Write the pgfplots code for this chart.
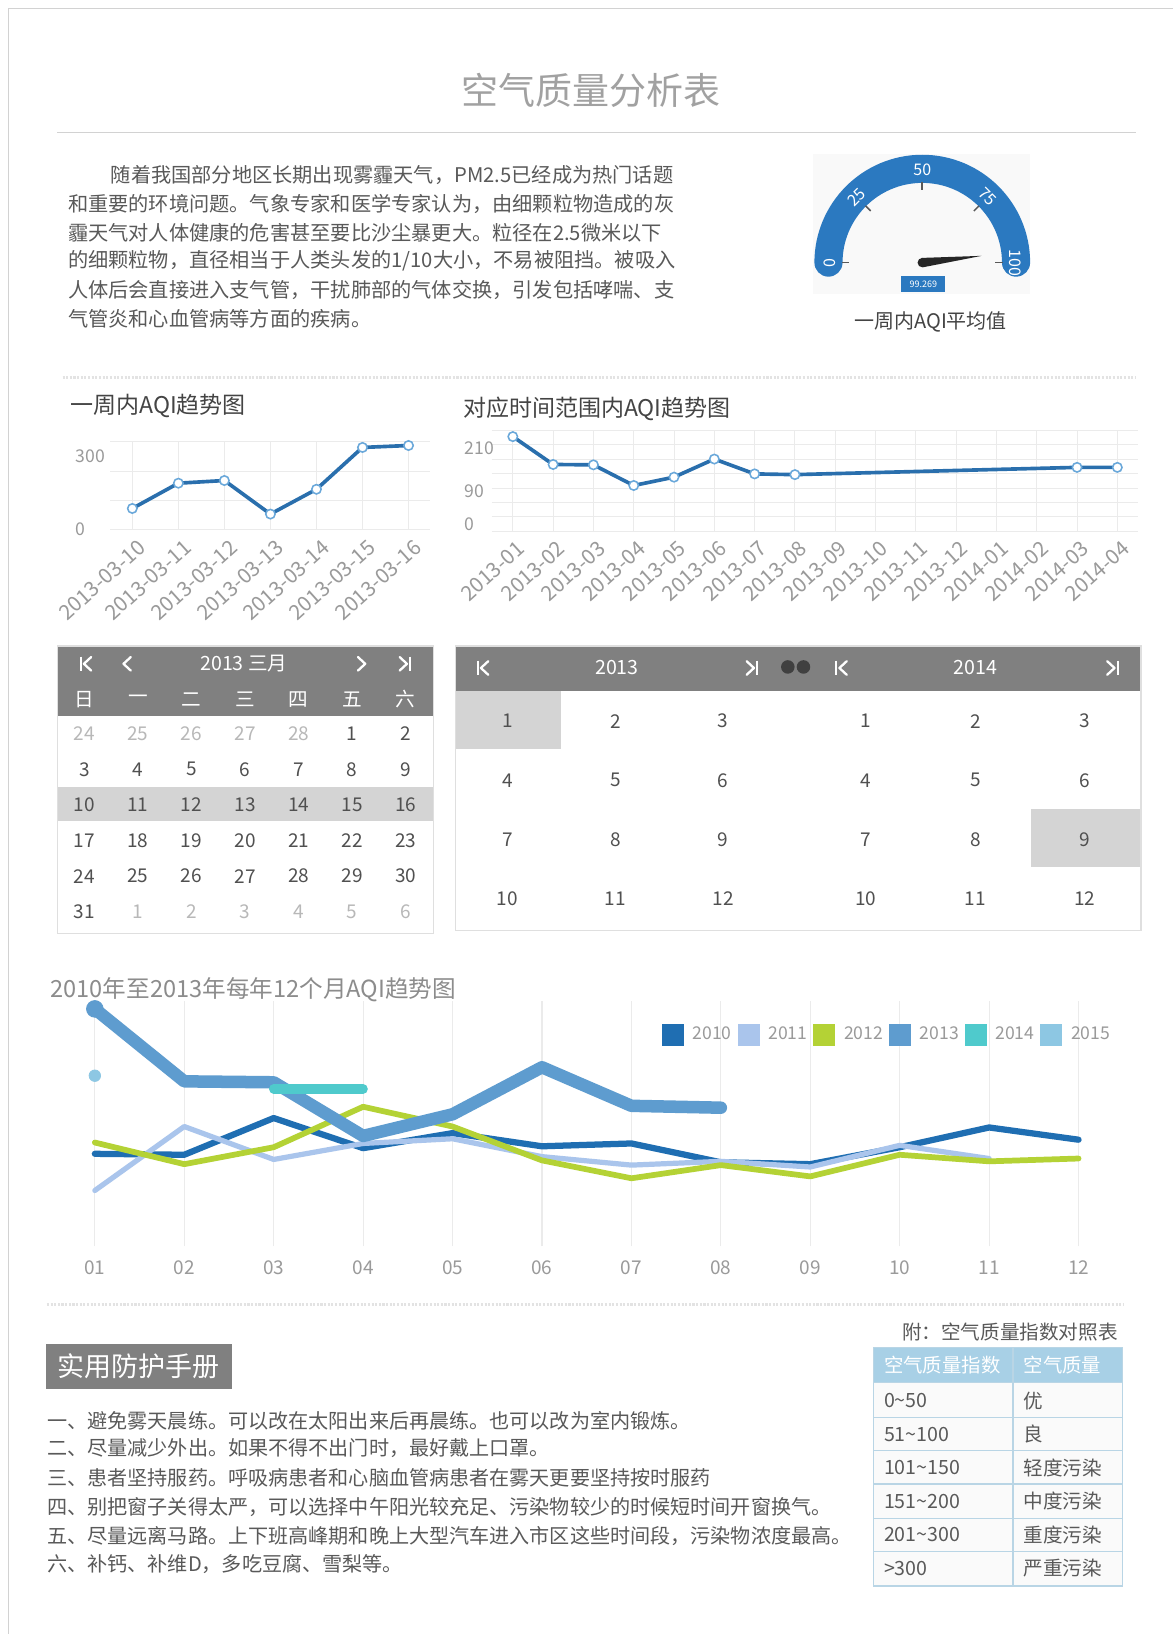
\documentclass[border=0pt]{standalone}
\usepackage{fontspec}
\setmainfont{Noto Sans CJK SC}
\usepackage{pgfplots}
\pgfplotsset{compat=1.18}
\pgfplotsset{/pgf/number format/assume math mode=true}
\newlength\U
\setlength\U{0.52087pt}
\newcommand\fs[1]{\fontsize{#1}{#1}\selectfont}
\definecolor{txt}{HTML}{595959}
\definecolor{dark}{HTML}{444444}
\definecolor{lbl}{HTML}{9A9A9A}
\definecolor{hdr}{HTML}{808080}
\definecolor{hl}{HTML}{D4D4D4}
\definecolor{calt}{HTML}{505050}
\definecolor{call}{HTML}{B8B8B8}
\definecolor{gridc}{HTML}{EBEBEB}
\definecolor{lineb}{HTML}{2A6FAD}
\definecolor{markb}{HTML}{6AA8DA}
\definecolor{gaugeb}{HTML}{2B79C0}
\definecolor{c2010}{HTML}{1F6EB2}
\definecolor{c2011}{HTML}{AAC5EC}
\definecolor{c2012}{HTML}{B4D235}
\definecolor{c2013}{HTML}{5E9CCF}
\definecolor{c2014}{HTML}{4FCACC}
\definecolor{c2015}{HTML}{8DC7E3}
\definecolor{thead}{HTML}{A8D0E6}
\definecolor{tbord}{HTML}{B9D5E5}
\newcommand\chevL[2]{\draw[white, line width=2.2\U, line cap=round, line join=round] (#1+3.5,#2-6.5) -- (#1-3.5,#2) -- (#1+3.5,#2+6.5);}
\newcommand\chevR[2]{\draw[white, line width=2.2\U, line cap=round, line join=round] (#1-3.5,#2-6.5) -- (#1+3.5,#2) -- (#1-3.5,#2+6.5);}
\newcommand\firstI[2]{\chevL{#1+2}{#2}\draw[white, line width=2.2\U] (#1-4.5,#2-7) -- (#1-4.5,#2+7);}
\newcommand\lastI[2]{\chevR{#1-2}{#2}\draw[white, line width=2.2\U] (#1+4.5,#2-7) -- (#1+4.5,#2+7);}
\begin{document}
\begin{tikzpicture}
\path[use as bounding box] (0,0) rectangle (1126\U,-1568\U);
\begin{scope}[x=\U,y=-\U, every node/.style={inner sep=0pt}]
\fill[white] (0,0) rectangle (1126,1568);
\draw[gray!35, line width=1\U] (8,1568) -- (8,8) -- (1126,8);
% title
\node[font=\fs{18.5}, text=gray!95!black!70] at (567,87) {空气质量分析表};
\draw[gray!35, line width=1.2\U] (55,127) -- (1090,127);
% paragraph
\begin{scope}[every node/.style={anchor=west, inner sep=0pt, font=\fs{10.1}, text=txt}]
\node at (106,168) {随着我国部分地区长期出现雾霾天气，PM2.5已经成为热门话题};
\node at (65,196) {和重要的环境问题。气象专家和医学专家认为，由细颗粒物造成的灰};
\node at (65,223) {霾天气对人体健康的危害甚至要比沙尘暴更大。粒径在2.5微米以下};
\node at (65,250) {的细颗粒物，直径相当于人类头发的1/10大小，不易被阻挡。被吸入};
\node at (65,278) {人体后会直接进入支气管，干扰肺部的气体交换，引发包括哮喘、支};
\node at (65,306) {气管炎和心血管病等方面的疾病。};
\end{scope}
% gauge
\fill[gray!5] (780,148) rectangle (988,282);
\draw[gaugeb, line width=27\U, line cap=round] (795,252) arc[start angle=-180, end angle=0, radius=90];
\foreach \v in {0,25,50,75,100}{
  \pgfmathsetmacro\ph{180-1.8*\v}
  \draw[gray!70!black, line width=1.5\U] ({885+77*cos(\ph)},{252-77*sin(\ph)}) -- ({885+70*cos(\ph)},{252-70*sin(\ph)});
  \node[text=white, font=\fs{8}, rotate=\ph-90] at ({885+89*cos(\ph)},{252-89*sin(\ph)}) {\v};
}
\fill[black!85] (884.4,247.5) -- (942,245.5) -- (885.6,256.5) -- cycle;
\fill[black!85] (885,252) circle (4.5);
\fill[gaugeb] (865,265) rectangle (907,280);
\node[text=white, font=\fs{4.5}] at (886,272.5) {99.269};
\node[font=\fs{10}, text=dark] at (893,309) {一周内AQI平均值};
% separators
\draw[gray!22, line width=2.5\U, dash pattern=on 2\U off 1.5\U] (60,362) -- (1090,362);
\draw[gray!22, line width=2.5\U, dash pattern=on 2\U off 1.5\U] (45,1252) -- (1078,1252);
% chart titles
\node[anchor=west, font=\fs{11.5}, text=dark] at (67,390) {一周内AQI趋势图};
\node[anchor=west, font=\fs{11.5}, text=dark] at (444,392) {对应时间范围内AQI趋势图};
\node[anchor=west, font=\fs{11.8}, text=gray!90] at (48,950) {2010年至2013年每年12个月AQI趋势图};
% calendar 1
\fill[hdr] (55,620) rectangle (416,687);
\fill[hl] (55,755) rectangle (416,788);
\draw[gray!25, line width=1.2\U] (55,620) rectangle (416,896);
\firstI{82}{637}
\chevL{122}{637}
\chevR{347}{637}
\lastI{389}{637}
\node[text=white, font=\fs{9.8}] at (234,637) {2013 三月};
\foreach \w [count=\c from 0] in {日,一,二,三,四,五,六}
  \node[text=white, font=\fs{9.8}] at ({81+51.4*\c},671) {\w};
\begin{scope}[every node/.style={font=\fs{9.5}, inner sep=0pt}]
\foreach \d [count=\c from 0] in {24,25,26,27,28}
  \node[text=call] at ({81+51.4*\c},704) {\d};
\foreach \d [count=\c from 5] in {1,2}
  \node[text=calt] at ({81+51.4*\c},704) {\d};
\foreach \r in {1,...,4}
  \foreach \c in {0,...,6}{
    \pgfmathtruncatemacro\n{3+7*(\r-1)+\c}
    \node[text=calt] at ({81+51.4*\c},{704+34.2*\r}) {\n};
  }
\node[text=calt] at (81,875) {31};
\foreach \d [count=\c from 1] in {1,2,3,4,5,6}
  \node[text=call] at ({81+51.4*\c},875) {\d};
\end{scope}
% calendar 2
\fill[hdr] (437,620) rectangle (1095,663);
\fill[hl] (437,663) rectangle (538,719);
\fill[hl] (989,776) rectangle (1095,832);
\draw[gray!25, line width=1.2\U] (437,620) rectangle (1095,893);
\firstI{463}{641}
\lastI{722}{641}
\firstI{807}{641}
\lastI{1068}{641}
\fill[black!75] (756,640) circle (6.5);
\fill[black!75] (771,640) circle (6.5);
\node[text=white, font=\fs{9.8}] at (592,641) {2013};
\node[text=white, font=\fs{9.8}] at (936,641) {2014};
\foreach \r in {0,...,3}
  \foreach \c in {0,1,2}{
    \pgfmathtruncatemacro\m{3*\r+\c+1}
    \node[text=calt, font=\fs{9.5}] at ({487+103.5*\c},{692+56.7*\r}) {\m};
    \node[text=calt, font=\fs{9.5}] at ({831+105*\c},{692+56.7*\r}) {\m};
  }
% protection handbook
\fill[hdr] (44,1290) rectangle (223,1333);
\node[text=white, font=\fs{13.5}] at (133,1311.5) {实用防护手册};
\begin{scope}[every node/.style={anchor=west, inner sep=0pt, font=\fs{10.05}, text=txt}]
\node at (45,1363) {一、避免雾天晨练。可以改在太阳出来后再晨练。也可以改为室内锻炼。};
\node at (45,1390) {二、尽量减少外出。如果不得不出门时，最好戴上口罩。};
\node at (45,1418) {三、患者坚持服药。呼吸病患者和心脑血管病患者在雾天更要坚持按时服药};
\node at (45,1446) {四、别把窗子关得太严，可以选择中午阳光较充足、污染物较少的时候短时间开窗换气。};
\node at (45,1474) {五、尽量远离马路。上下班高峰期和晚上大型汽车进入市区这些时间段，污染物浓度最高。};
\node at (45,1501) {六、补钙、补维D，多吃豆腐、雪梨等。};
\end{scope}
% reference table
\node[anchor=east, font=\fs{9.8}, text=txt] at (1073,1278) {附：空气质量指数对照表};
\fill[gray!4] (838,1327) rectangle (1077,1522);
\fill[thead] (838,1293) rectangle (1077,1327);
\foreach \yy in {1327,1360,1392,1424,1457,1489}
  \draw[tbord, line width=1.2\U] (838,\yy) -- (1077,\yy);
\draw[tbord, line width=1.5\U] (838,1293) rectangle (1077,1522);
\draw[tbord, line width=1.2\U] (972,1293) -- (972,1522);
\node[anchor=west, text=white, font=\fs{9.7}] at (848,1310) {空气质量指数};
\node[anchor=west, text=white, font=\fs{9.7}] at (982,1310) {空气质量};
\foreach \a/\b [count=\i from 0] in {0\textasciitilde 50/优, 51\textasciitilde 100/良, 101\textasciitilde 150/轻度污染, 151\textasciitilde 200/中度污染, 201\textasciitilde 300/重度污染, >300/严重污染}{
  \node[anchor=west, text=txt, font=\fs{9.8}] at (848,{1344+32.2*\i}) {\a};
  \node[anchor=west, text=txt, font=\fs{9.8}] at (982,{1344+32.2*\i}) {\b};
}
\end{scope}

% chart 1: weekly AQI
\begin{axis}[
  at={(106\U,-508\U)}, anchor=south west, scale only axis,
  width=307\U, height=84\U,
  xmin=-0.475, xmax=6.475, ymin=0, ymax=360,
  axis line style={draw=none}, tick style={draw=none}, major tick length=0pt,
  xtick={0,...,6},
  xticklabels={2013-03-10,2013-03-11,2013-03-12,2013-03-13,2013-03-14,2013-03-15,2013-03-16},
  xticklabel style={font=\fs{10.4}, text=lbl, xshift=14\U, yshift=-10\U, rotate=42, anchor=east},
  ytick={0,120,240,360}, yticklabels={0,{},{},{}},
  extra y ticks={300}, extra y tick labels={300}, extra y tick style={grid=none},
  yticklabel style={font=\fs{8.8}, text=lbl, anchor=west, xshift=-40\U},
  grid=major, major grid style={gridc, line width=0.5pt},
  clip=false,
]
\addplot[lineb, line width=3.5\U, mark=*, mark size=4.5\U, mark options={fill=white, draw=markb, line width=1.5\U}]
  coordinates {(0,86) (1,190) (2,201) (3,63) (4,165) (5,337) (6,345)};
\end{axis}

% chart 2: monthly AQI
\begin{axis}[
  at={(472\U,-510\U)}, anchor=south west, scale only axis,
  width=620.3\U, height=97.3\U,
  xmin=-0.52, xmax=15.52, ymin=-20, ymax=260,
  axis line style={draw=none}, tick style={draw=none}, major tick length=0pt,
  xtick={0,...,15},
  xticklabels={2013-01,2013-02,2013-03,2013-04,2013-05,2013-06,2013-07,2013-08,2013-09,2013-10,2013-11,2013-12,2014-01,2014-02,2014-03,2014-04},
  xticklabel style={font=\fs{10.4}, text=lbl, xshift=13\U, yshift=-9\U, rotate=42, anchor=east},
  ytick={-20,20,60,100,140,180,220,260}, yticklabels={{},{},{},{},{},{},{},{}},
  extra y ticks={0,90,210}, extra y tick labels={0,90,210}, extra y tick style={grid=none},
  yticklabel style={font=\fs{8.8}, text=lbl, anchor=west, xshift=-33\U},
  grid=major, major grid style={gridc, line width=0.5pt},
  clip=false,
]
\addplot[lineb, line width=3.5\U, mark=*, mark size=4.5\U, mark options={fill=white, draw=markb, line width=1.5\U}]
  coordinates {(0,242) (1,165) (2,164) (3,107) (4,130) (5,180) (6,139) (7,137) (14,157) (15,157)};
\end{axis}

% main chart
\begin{axis}[
  at={(48.1\U,-1195.7\U)}, anchor=south west, scale only axis,
  width=1029.8\U, height=234.8\U,
  xmin=0.5, xmax=12.5, ymin=-10, ymax=250,
  axis line style={draw=none}, tick style={draw=none}, major tick length=0pt,
  xtick={1,...,12}, xticklabels={01,02,03,04,05,06,07,08,09,10,11,12},
  xticklabel style={font=\fs{9.5}, text=lbl, yshift=-4pt},
  ytick=\empty,
  xmajorgrids, major grid style={gridc, line width=0.6pt},
  clip=false,
  legend columns=6,
  legend style={at={(0.9975,0.8633)}, anchor=east, draw=none, fill=none, font=\fs{8.8}, text=lbl,
    /tikz/every even column/.append style={column sep=1pt},
    /tikz/every odd column/.append style={column sep=2.5pt}},
]
\addplot[forget plot, c2010, line width=6\U, line join=round, line cap=round]
  coordinates {(1,88) (2,87) (3,126) (4,94) (5,110) (6,96) (7,99) (8,79) (9,77) (10,95) (11,116) (12,103)};
\addplot[forget plot, c2011, line width=5\U, line join=round, line cap=round]
  coordinates {(1,49) (2,117) (3,82) (4,99) (5,104) (6,85) (7,76) (8,80) (9,74) (10,97) (11,83)};
\addplot[forget plot, c2012, line width=5.5\U, line join=round, line cap=round]
  coordinates {(1,100) (2,77) (3,95) (4,138) (5,117) (6,81) (7,62) (8,76) (9,64) (10,87) (11,80) (12,83)};
\addplot[forget plot, c2013, line width=12\U, line join=round, line cap=round]
  coordinates {(1,242) (2,165) (3,164) (4,107) (5,130) (6,180) (7,139) (8,137)};
\addplot[forget plot, only marks, mark=*, mark size=8\U, c2013] coordinates {(1,242)};
\addplot[forget plot, c2014, line width=9\U, line join=round, line cap=round]
  coordinates {(3,157) (4,157)};
\addplot[forget plot, only marks, mark=*, mark size=5.5\U, c2015] coordinates {(1,171)};
\addlegendimage{legend image code/.code={\fill[c2010] (0pt,-5.2pt) rectangle (10.4pt,5.2pt);}}
\addlegendentry{2010}
\addlegendimage{legend image code/.code={\fill[c2011] (0pt,-5.2pt) rectangle (10.4pt,5.2pt);}}
\addlegendentry{2011}
\addlegendimage{legend image code/.code={\fill[c2012] (0pt,-5.2pt) rectangle (10.4pt,5.2pt);}}
\addlegendentry{2012}
\addlegendimage{legend image code/.code={\fill[c2013] (0pt,-5.2pt) rectangle (10.4pt,5.2pt);}}
\addlegendentry{2013}
\addlegendimage{legend image code/.code={\fill[c2014] (0pt,-5.2pt) rectangle (10.4pt,5.2pt);}}
\addlegendentry{2014}
\addlegendimage{legend image code/.code={\fill[c2015] (0pt,-5.2pt) rectangle (10.4pt,5.2pt);}}
\addlegendentry{2015}
\end{axis}
\end{tikzpicture}
\end{document}
